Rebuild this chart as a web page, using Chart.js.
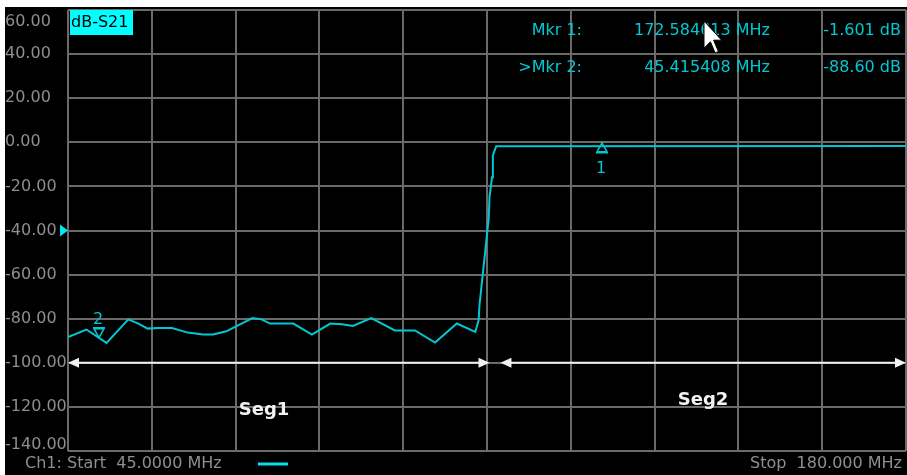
<!DOCTYPE html>
<html lang="en">
<head>
<meta charset="UTF-8">
<title>S21 segment sweep</title>
<script src="https://cdn.jsdelivr.net/npm/chart.js"></script>
<style>
  html, body { margin: 0; padding: 0; background: #fff; }
  #wrap { position: relative; width: 907px; height: 475px; }
</style>
</head>
<body>
<div id="wrap"><canvas id="vna" width="907" height="475"></canvas></div>
<script>
// trace position in graticule divisions (0..10) and S21 in dB
const segPos = [0, 0.22, 0.46, 0.72, 0.84, 0.95, 1.07, 1.24, 1.43, 1.61, 1.73, 1.89, 2.07, 2.20, 2.31, 2.41,
  2.69, 2.91, 3.13, 3.27, 3.40, 3.62, 3.90, 4.14, 4.38, 4.64, 4.86, 4.90, 4.91, 5.02, 5.03, 5.06, 5.07, 5.11, 10];
const s21 = [-88.3, -84.9, -91.0, -80.3, -82.2, -84.5, -84.2, -84.2, -86.3, -87.2, -87.2, -85.7, -82.2, -79.7, -80.3, -82.2,
  -82.2, -87.2, -82.2, -82.5, -83.3, -79.7, -85.3, -85.3, -90.8, -82.2, -86.0, -80.7, -74.0, -34.6, -24.9, -15.9, -5.9, -1.8, -1.7];

const yTicks = [60, 40, 20, 0, -20, -40, -60, -80, -100, -120, -140];
const yTickLabels = ['60.00', '40.00', '20.00', '0.00', '-20.00', '-40.00', '-60.00', '-80.00', '-100.00', '-120.00', '-140.00'];

const segNames = ['Seg1', 'Seg2'];
const segStart = [0, 5.16];
const segEnd = [5.03, 10];

const mkrNames = ['Mkr 1:', '>Mkr 2:'];
const mkrPos = [6.37, 0.37];
const mkrVal = [-1.601, -88.60];
const mkrFreqText = ['172.584613 MHz', '45.415408 MHz'];
const mkrValText = ['-1.601 dB', '-88.60 dB'];

const refLevel = -40;

const CYAN = '#00c8d2';
const GRAY_TXT = '#8e8e8e';
const FONT = '"DejaVu Sans", sans-serif';

const vnaDecor = {
  id: 'vnaDecor',
  beforeDraw(chart) {
    const c = chart.ctx;
    c.save();
    c.fillStyle = '#fff';
    c.fillRect(0, 0, chart.width, chart.height);
    c.fillStyle = '#000';
    c.fillRect(5, 7, chart.width - 5, chart.height - 7);
    c.restore();
  },
  afterDraw(chart) {
    const c = chart.ctx;
    const xs = chart.scales.x, ys = chart.scales.y;
    c.save();

    // y labels
    c.font = '16px ' + FONT;
    c.fillStyle = GRAY_TXT;
    c.textAlign = 'left';
    c.textBaseline = 'middle';
    yTicks.forEach((v, i) => {
      let y = ys.getPixelForValue(v);
      y = Math.min(Math.max(y, 22), 445);
      c.fillText(yTickLabels[i], 5, y);
    });

    // ref level arrow
    const ry = ys.getPixelForValue(refLevel);
    c.fillStyle = '#00e8f0';
    c.beginPath();
    c.moveTo(xs.left, ry);
    c.lineTo(xs.left - 8, ry - 6);
    c.lineTo(xs.left - 8, ry + 6);
    c.closePath();
    c.fill();

    // trace label box
    c.fillStyle = '#00ffff';
    c.fillRect(70, 10, 63, 25);
    c.fillStyle = '#000';
    c.font = '16px ' + FONT;
    c.textAlign = 'left';
    c.fillText('dB-S21', 71, 23);

    // marker readout
    c.fillStyle = CYAN;
    mkrNames.forEach((n, i) => {
      const y = 31 + i * 37;
      c.textAlign = 'right';
      c.fillText(n, 582, y);
      c.fillText(mkrFreqText[i], 770, y);
      c.fillText(mkrValText[i], 901, y);
    });

    // segment arrows
    const ay = ys.getPixelForValue(-100);
    c.strokeStyle = '#f2f2f2';
    c.fillStyle = '#f2f2f2';
    c.lineWidth = 2;
    segNames.forEach((s, i) => {
      const x0 = xs.getPixelForValue(segStart[i]);
      const x1 = xs.getPixelForValue(segEnd[i]);
      c.beginPath();
      c.moveTo(x0 + 6, ay);
      c.lineTo(x1 - 6, ay);
      c.stroke();
      c.beginPath();
      c.moveTo(x0, ay); c.lineTo(x0 + 11, ay - 5); c.lineTo(x0 + 11, ay + 5); c.closePath(); c.fill();
      c.beginPath();
      c.moveTo(x1, ay); c.lineTo(x1 - 11, ay - 5); c.lineTo(x1 - 11, ay + 5); c.closePath(); c.fill();
      c.font = 'bold 18px ' + FONT;
      c.textAlign = 'center';
      c.fillText(s, i === 0 ? 264 : 703, i === 0 ? 410 : 400);
    });

    // markers on trace
    c.strokeStyle = CYAN;
    c.fillStyle = CYAN;
    c.lineWidth = 1.5;
    c.font = '16px ' + FONT;
    c.textAlign = 'center';
    mkrPos.forEach((p, i) => {
      const px = Math.round(xs.getPixelForValue(p));
      const py = ys.getPixelForValue(mkrVal[i]);
      c.beginPath();
      if (i === 1) {
        // active marker: pointing down onto the trace
        c.moveTo(px, py);
        c.lineTo(px - 5, py - 9);
        c.lineTo(px + 5, py - 9);
        c.closePath();
        c.moveTo(px - 6, py - 10);
        c.lineTo(px + 6, py - 10);
        c.stroke();
        c.fillText('2', px - 1, py - 18);
      } else {
        c.moveTo(px, py - 3);
        c.lineTo(px - 5, py + 6);
        c.lineTo(px + 5, py + 6);
        c.closePath();
        c.moveTo(px - 6, py + 7);
        c.lineTo(px + 6, py + 7);
        c.stroke();
        c.fillText('1', px - 1, py + 23);
      }
    });

    // footer
    c.font = '16px ' + FONT;
    c.fillStyle = GRAY_TXT;
    c.textAlign = 'left';
    c.fillText('Ch1: Start  45.0000 MHz', 25, 464);
    c.textAlign = 'right';
    c.fillText('Stop  180.000 MHz', 902, 464);
    c.strokeStyle = '#00e0e8';
    c.lineWidth = 3;
    c.beginPath();
    c.moveTo(258, 464);
    c.lineTo(288, 464);
    c.stroke();

    // mouse pointer
    const pts = [[0, 0], [0, 17], [4, 13], [7, 20], [9, 19], [6, 12], [11, 12]];
    c.beginPath();
    pts.forEach((p, k) => {
      const x = 704 + p[0] * 1.6, y = 21 + p[1] * 1.6;
      if (k === 0) c.moveTo(x, y); else c.lineTo(x, y);
    });
    c.closePath();
    c.fillStyle = '#fff';
    c.fill();
    c.strokeStyle = '#000';
    c.lineWidth = 1;
    c.stroke();

    c.restore();
  }
};

const ctx = document.getElementById('vna').getContext('2d');
new Chart(ctx, {
  type: 'line',
  data: {
    datasets: [{
      data: segPos.map((x, i) => ({ x: x, y: s21[i] })),
      borderColor: CYAN,
      borderWidth: 2,
      pointRadius: 0,
      tension: 0
    }]
  },
  options: {
    responsive: false,
    animation: false,
    layout: { padding: { left: 68, right: 1, top: 10, bottom: 24 } },
    plugins: { legend: { display: false }, tooltip: { enabled: false } },
    scales: {
      x: {
        type: 'linear', min: 0, max: 10,
        ticks: { display: false, stepSize: 1 },
        grid: { color: '#6a6a6a', lineWidth: 2, drawTicks: false },
        border: { display: false }
      },
      y: {
        min: -140, max: 60,
        ticks: { display: false, stepSize: 20 },
        grid: { color: '#6a6a6a', lineWidth: 2, drawTicks: false },
        border: { display: false }
      }
    }
  },
  plugins: [vnaDecor]
});
</script>
</body>
</html>
